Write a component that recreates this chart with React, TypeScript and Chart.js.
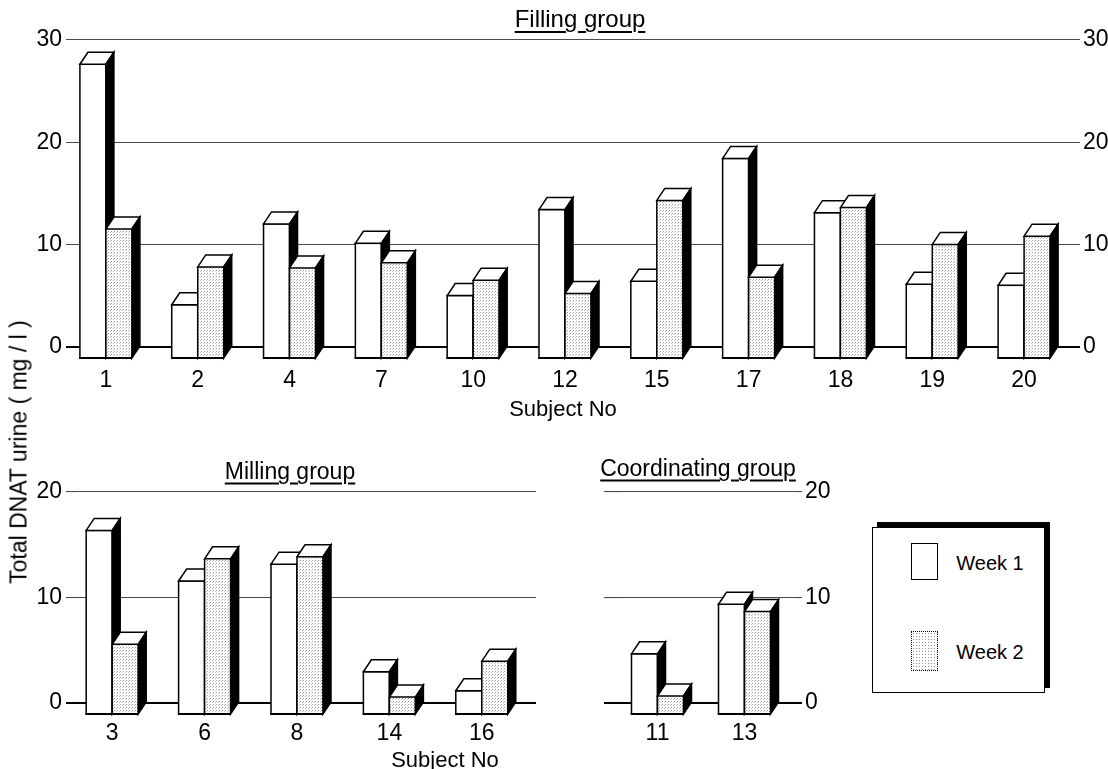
import React, { useEffect, useRef } from 'react';
import { Chart, registerables } from 'chart.js';

Chart.register(...registerables);

// ---------- data ----------
const fillingSubjects = ['1', '2', '4', '7', '10', '12', '15', '17', '18', '19', '20'];
const fillingWeek1 = [28.8, 5.3, 13.2, 11.3, 6.2, 14.6, 7.6, 19.6, 14.3, 7.3, 7.2];
const fillingWeek2 = [12.7, 9.0, 8.9, 9.4, 7.7, 6.4, 15.5, 8.0, 14.8, 11.2, 12.0];

const millingSubjects = ['3', '6', '8', '14', '16'];
const millingWeek1 = [17.5, 12.7, 14.3, 4.1, 2.3];
const millingWeek2 = [6.7, 14.8, 15.0, 1.7, 5.1];

const coordSubjects = ['11', '13'];
const coordWeek1 = [5.8, 10.5];
const coordWeek2 = [1.8, 9.8];

const fillingTicks = [0, 10, 20, 30];
const groupTicks = [0, 10, 20];

const seriesNames = ['Week 1', 'Week 2'];

// ---------- style ----------
const TICK_FONT = '"Liberation Sans Narrow", "Liberation Sans", Arial, sans-serif';
const TEXT_FONT = '"Liberation Sans", Arial, sans-serif';
const DX = 8;
const DY = 12;

let tileCanvas: HTMLCanvasElement | null = null;
function getTile() {
  if (!tileCanvas) {
    const c = document.createElement('canvas');
    c.width = 3;
    c.height = 3;
    const g = c.getContext('2d')!;
    g.fillStyle = '#ffffff';
    g.fillRect(0, 0, 3, 3);
    g.fillStyle = '#9a9a9a';
    g.fillRect(0, 0, 1, 1);
    g.fillStyle = '#c4c4c4';
    g.fillRect(2, 1, 1, 1);
    tileCanvas = c;
  }
  return tileCanvas;
}

const bar3d = {
  id: 'bar3d',
  afterDatasetsDraw(chart: any) {
    const ctx = chart.ctx as CanvasRenderingContext2D;
    const pat = ctx.createPattern(getTile(), 'repeat')!;
    const n = chart.data.labels.length;
    const nd = chart.data.datasets.length;
    ctx.save();
    ctx.lineJoin = 'miter';
    ctx.strokeStyle = '#000';
    for (let j = 0; j < n; j++) {
      for (let d = 0; d < nd; d++) {
        const el = chart.getDatasetMeta(d).data[j];
        if (!el) continue;
        const p = el.getProps(['x', 'y', 'base', 'width'], true);
        const l = p.x - p.width / 2 - DX;
        const r = p.x + p.width / 2 - DX;
        const t = p.y + DY;
        const b = p.base + DY;
        // front face
        ctx.fillStyle = d === 0 ? '#ffffff' : pat;
        ctx.fillRect(l, t, r - l, b - t);
        ctx.lineWidth = 1.5;
        if (d === 0) {
          ctx.setLineDash([]);
          ctx.strokeRect(l, t, r - l, b - t);
        } else {
          ctx.setLineDash([1.5, 1.5]);
          ctx.beginPath();
          ctx.moveTo(r, t);
          ctx.lineTo(r, b);
          ctx.stroke();
          ctx.setLineDash([]);
          ctx.beginPath();
          ctx.moveTo(l, t);
          ctx.lineTo(l, b);
          ctx.stroke();
        }
        ctx.setLineDash([]);
        ctx.lineWidth = 2;
        ctx.beginPath();
        ctx.moveTo(l - 0.75, b);
        ctx.lineTo(r, b);
        ctx.stroke();
        // top face
        ctx.lineWidth = 1.5;
        ctx.beginPath();
        ctx.moveTo(l, t);
        ctx.lineTo(l + DX, t - DY);
        ctx.lineTo(r + DX, t - DY);
        ctx.lineTo(r, t);
        ctx.closePath();
        ctx.fillStyle = '#ffffff';
        ctx.fill();
        ctx.stroke();
        // side face
        ctx.beginPath();
        ctx.moveTo(r, t);
        ctx.lineTo(r + DX, t - DY);
        ctx.lineTo(r + DX, b - DY);
        ctx.lineTo(r, b);
        ctx.closePath();
        ctx.fillStyle = '#000000';
        ctx.fill();
        ctx.stroke();
      }
    }
    ctx.restore();
  },
};

const gridColor = (c: any) => (c.tick && c.tick.value === 0 ? '#000000' : '#4a4a4a');
const gridWidth = (c: any) => (c.tick && c.tick.value === 0 ? 2 : 1.1);

interface PanelOpts {
  labels: string[];
  w1: number[];
  w2: number[];
  max: number;
  ticks: number[];
  leftW: number;
  leftTick: number;
  leftLabels: boolean;
  rightW: number;
  rightTick: number;
  padding: { top: number; bottom: number; left: number; right: number };
  xHeight: number;
  xPad: number;
}

function buildConfig(o: PanelOpts): any {
  const setTicks = (s: any) => {
    s.ticks = o.ticks.map((v) => ({ value: v }));
  };
  const scales: any = {
    x: {
      type: 'category',
      grid: { display: false, drawTicks: false },
      border: { display: false },
      ticks: {
        color: '#000',
        font: { family: TICK_FONT, size: 23 },
        padding: o.xPad,
        labelOffset: -DX,
        maxRotation: 0,
        autoSkip: false,
      },
      afterFit: (s: any) => {
        s.height = o.xHeight;
      },
    },
    y: {
      position: 'left',
      min: 0,
      max: o.max,
      afterBuildTicks: setTicks,
      grid: {
        color: gridColor,
        lineWidth: gridWidth,
        tickLength: o.leftTick,
        drawTicks: true,
      },
      border: { display: false },
      ticks: {
        display: o.leftLabels,
        color: '#000',
        font: { family: TICK_FONT, size: 23 },
        padding: 4,
      },
      afterFit: (s: any) => {
        s.width = o.leftW;
      },
    },
  };
  if (o.rightW > 0) {
    scales.y2 = {
      position: 'right',
      min: 0,
      max: o.max,
      afterBuildTicks: setTicks,
      grid: {
        drawOnChartArea: false,
        color: gridColor,
        lineWidth: gridWidth,
        tickLength: o.rightTick,
      },
      border: { display: false },
      ticks: {
        color: '#000',
        font: { family: TICK_FONT, size: 23 },
        padding: 3,
      },
      afterFit: (s: any) => {
        s.width = o.rightW;
      },
    };
  }
  return {
    type: 'bar',
    data: {
      labels: o.labels,
      datasets: [
        {
          label: seriesNames[0],
          data: o.w1,
          backgroundColor: 'rgba(0,0,0,0)',
          borderWidth: 0,
          barThickness: 26,
        },
        {
          label: seriesNames[1],
          data: o.w2,
          backgroundColor: 'rgba(0,0,0,0)',
          borderWidth: 0,
          barThickness: 26,
        },
      ],
    },
    options: {
      responsive: false,
      animation: false,
      devicePixelRatio: 1,
      layout: { padding: o.padding },
      plugins: {
        legend: { display: false },
        tooltip: { enabled: false },
        title: { display: false },
      },
      scales,
    },
    plugins: [bar3d],
  };
}

const abs = (left: number, top: number, extra: React.CSSProperties = {}): React.CSSProperties => ({
  position: 'absolute',
  left,
  top,
  transform: 'translate(-50%, -50%)',
  whiteSpace: 'nowrap',
  lineHeight: 1,
  fontFamily: TEXT_FONT,
  color: '#000',
  ...extra,
});

const titleStyle: React.CSSProperties = {
  fontSize: 23,
  textDecoration: 'underline',
  textUnderlineOffset: '4px',
  textDecorationThickness: '1.5px',
};

export default function App() {
  const topRef = useRef<HTMLCanvasElement>(null);
  const millRef = useRef<HTMLCanvasElement>(null);
  const coordRef = useRef<HTMLCanvasElement>(null);

  useEffect(() => {
    const charts: Chart[] = [];
    charts.push(
      new Chart(
        topRef.current!,
        buildConfig({
          labels: fillingSubjects,
          w1: fillingWeek1,
          w2: fillingWeek2,
          max: 30,
          ticks: fillingTicks,
          leftW: 68,
          leftTick: 2,
          leftLabels: true,
          rightW: 30,
          rightTick: 2,
          padding: { top: 40, bottom: 0, left: 0, right: 0 },
          xHeight: 53,
          xPad: 20,
        })
      )
    );
    charts.push(
      new Chart(
        millRef.current!,
        buildConfig({
          labels: millingSubjects,
          w1: millingWeek1,
          w2: millingWeek2,
          max: 20,
          ticks: groupTicks,
          leftW: 74,
          leftTick: 8,
          leftLabels: true,
          rightW: 0,
          rightTick: 0,
          padding: { top: 52, bottom: 0, left: 0, right: 24 },
          xHeight: 66,
          xPad: 17,
        })
      )
    );
    charts.push(
      new Chart(
        coordRef.current!,
        buildConfig({
          labels: coordSubjects,
          w1: coordWeek1,
          w2: coordWeek2,
          max: 20,
          ticks: groupTicks,
          leftW: 18,
          leftTick: 18,
          leftLabels: false,
          rightW: 34,
          rightTick: 6,
          padding: { top: 52, bottom: 0, left: 14, right: 20 },
          xHeight: 66,
          xPad: 17,
        })
      )
    );
    return () => charts.forEach((c) => c.destroy());
  }, []);

  const dotted = {
    backgroundColor: '#fff',
    backgroundImage: 'radial-gradient(circle, #8f8f8f 0.7px, rgba(255,255,255,0) 0.9px)',
    backgroundSize: '3px 3px',
  };

  return (
    <div
      style={{
        position: 'absolute',
        left: 0,
        top: 0,
        width: 1108,
        height: 769,
        background: '#fff',
        overflow: 'hidden',
      }}
    >
      <canvas ref={topRef} width={1108} height={400} style={{ position: 'absolute', left: 0, top: 0 }} />
      <canvas ref={millRef} width={560} height={329} style={{ position: 'absolute', left: 0, top: 440 }} />
      <canvas ref={coordRef} width={260} height={329} style={{ position: 'absolute', left: 590, top: 440 }} />

      <div style={abs(580, 19, { ...titleStyle, fontSize: 24 })}>Filling group</div>
      <div style={abs(290, 471, titleStyle)}>Milling group</div>
      <div style={abs(698, 468, titleStyle)}>Coordinating group</div>

      <div style={abs(563, 409, { fontSize: 22 })}>Subject No</div>
      <div style={abs(445, 760, { fontSize: 22 })}>Subject No</div>

      <div style={abs(19, 452, { fontSize: 23, transform: 'translate(-50%, -50%) rotate(-90deg)' })}>
        Total DNAT urine ( mg / l )
      </div>

      {/* legend */}
      <div
        style={{
          position: 'absolute',
          left: 872,
          top: 527,
          width: 171,
          height: 164,
          border: '1.5px solid #000',
          boxShadow: '5px -5px 0 0 #000',
          background: '#fff',
        }}
      >
        <div
          style={{
            position: 'absolute',
            left: 38,
            top: 15,
            width: 25,
            height: 35,
            border: '1.5px solid #000',
            background: '#fff',
          }}
        />
        <div style={abs(117, 35, { fontSize: 20 })}>{seriesNames[0]}</div>
        <div
          style={{
            position: 'absolute',
            left: 38,
            top: 103,
            width: 25,
            height: 38,
            border: '1.5px dotted #000',
            ...dotted,
          }}
        />
        <div style={abs(117, 124, { fontSize: 20 })}>{seriesNames[1]}</div>
      </div>
    </div>
  );
}
